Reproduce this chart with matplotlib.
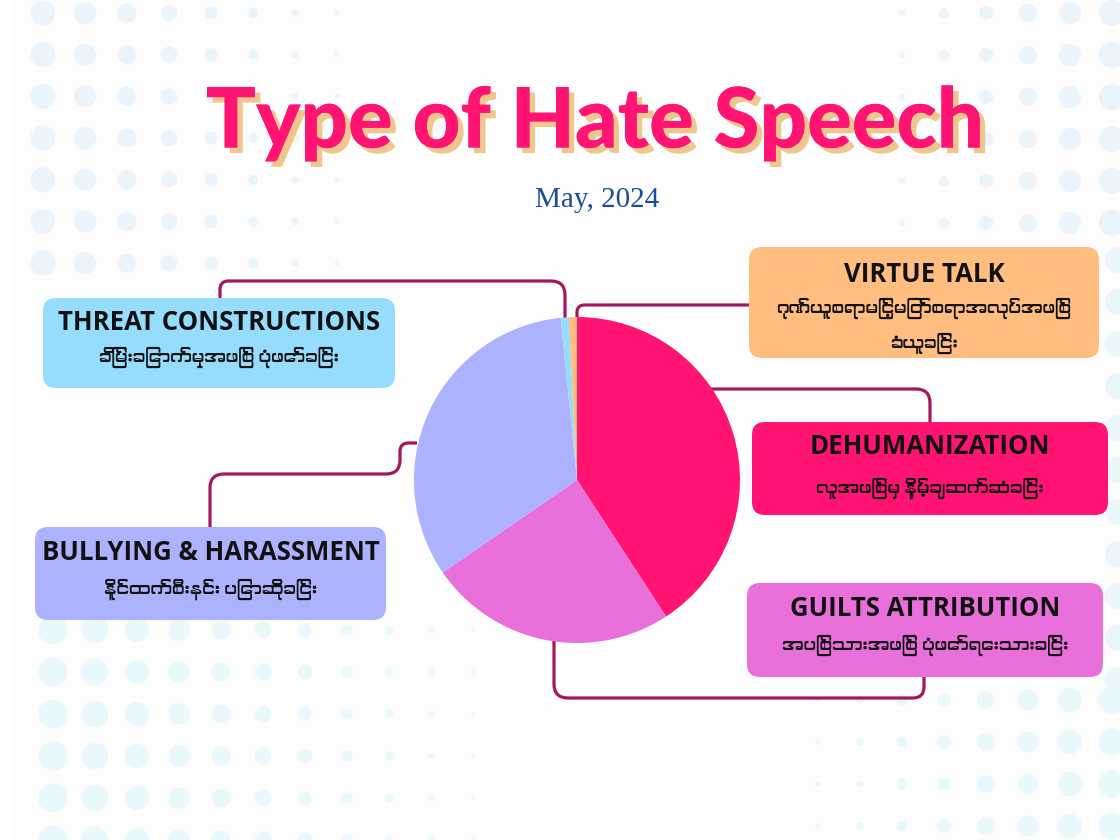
import numpy as np
import matplotlib.pyplot as plt
from matplotlib import font_manager
from matplotlib.ft2font import FT2Font
from matplotlib.patches import FancyBboxPatch, PathPatch, Circle, Rectangle
from matplotlib.path import Path
import matplotlib.patheffects as pe

# ---- data (clockwise from 12 o'clock) ----
categories = ["DEHUMANIZATION", "GUILTS ATTRIBUTION", "BULLYING & HARASSMENT",
              "THREAT CONSTRUCTIONS", "VIRTUE TALK"]
shares = [40.8, 24.6, 33.0, 0.8, 0.8]
subtitles = [
    "လူအဖြစ်မှ နှိမ့်ချဆက်ဆံခြင်း",
    "အပြစ်သားအဖြစ် ပုံဖော်ရေးသားခြင်း",
    "နိုင်ထက်စီးနင်း ပြောဆိုခြင်း",
    "ခြိမ်းခြောက်မှုအဖြစ် ပုံဖော်ခြင်း",
    "ဂုဏ်ယူစရာမြင့်မြတ်စရာအလုပ်အဖြစ်\nခံယူခြင်း",
]
colors = ["#FF1473", "#E970DB", "#ACB2FD", "#96DDFD", "#FFBD80"]
title = "Type of Hate Speech"
period = "May, 2024"

W, H = 1120, 840
LINE = "#A3175C"


def font_with(ch):
    # prefer a face that actually has the glyph (Myanmar block)
    cands = sorted(font_manager.fontManager.ttflist,
                   key=lambda f: ("myanmar" not in f.name.lower() and "padauk" not in f.name.lower()))
    for f in cands:
        try:
            if ord(ch) in FT2Font(f.fname).get_charmap():
                return f.name
        except Exception:
            pass
    return None


mm = font_with("\u1000")
mm_family = ([mm] if mm else []) + ["Noto Sans", "DejaVu Sans"]


def rounded_path(pts, r):
    verts, codes = [pts[0]], [Path.MOVETO]
    for i in range(1, len(pts) - 1):
        p0, p1, p2 = (np.array(p, float) for p in pts[i - 1:i + 2])
        l1, l2 = np.linalg.norm(p1 - p0), np.linalg.norm(p2 - p1)
        rr = min(r, l1 / 2, l2 / 2)
        a = p1 - (p1 - p0) / l1 * rr
        b = p1 + (p2 - p1) / l2 * rr
        verts += [tuple(a), tuple(p1), tuple(b)]
        codes += [Path.LINETO, Path.CURVE3, Path.CURVE3]
    verts.append(pts[-1])
    codes.append(Path.LINETO)
    return Path(verts, codes)


fig = plt.figure(figsize=(11.2, 8.4), dpi=100)
fig.patch.set_facecolor("#FDFDFE")
ax = fig.add_axes([0, 0, 1, 1])
ax.set_xlim(0, W)
ax.set_ylim(H, 0)
ax.set_aspect("equal")
ax.axis("off")

# halftone dots in the corners
def halftone(x0, y0, dx, dy, nx, ny, dmax, color):
    for i in range(nx):
        d = dmax * (1 - i / (nx + 0.5))
        for j in range(ny):
            ax.add_patch(Circle((x0 + dx * i, y0 + dy * j), max(d, 3) / 2,
                                color=color, lw=0, zorder=0))

halftone(43, 13, 42, 41.7, 8, 7, 25, "#EBF4FA")
halftone(53, 630, 42, 42, 11, 6, 29, "#E8F8FB")
halftone(1112, 13, -42, 42, 6, 6, 26, "#EBF4FA")
halftone(1112, 700, -42, 42, 8, 4, 27, "#E8F8FB")
halftone(1118, 260, -42, 42, 1, 11, 26, "#EAF6FA")
ax.add_patch(Rectangle((0, 0), 11, H, color="white", lw=0, zorder=0.5))

# title
ax.text(595, 123, title, ha="center", va="center", fontsize=60,
        fontfamily="Lato", fontweight="black", color="#FF1473",
        path_effects=[pe.withSimplePatchShadow(offset=(4, -4), shadow_rgbFace="#EFC78C", alpha=1),
                      pe.Normal()], zorder=3)
ax.text(597, 200, period, ha="center", va="center", fontsize=21,
        fontfamily="Liberation Serif", color="#1A4D9C", zorder=3)

# boxes: left, top, right, bottom, title y, subtitle y
boxes = [
    (752, 422, 1108, 515, 447, 488),
    (747, 583, 1103, 677, 608, 645),
    (35, 527, 386, 620, 553, 589),
    (43, 298, 395, 388, 323, 357),
    (749, 247, 1099, 358, 274, 326),
]
for (l, t, r, b, ty, sy), name, sub, c in zip(boxes, categories, subtitles, colors):
    ax.add_patch(FancyBboxPatch((l, t), r - l, b - t,
                                boxstyle="round,pad=0,rounding_size=13",
                                fc=c, ec="none", zorder=2))
    cx = (l + r) / 2
    ax.text(cx, ty, name, ha="center", va="center", fontsize=18.5,
            fontfamily="Open Sans", fontweight="bold", color="#111111", zorder=3)
    ax.text(cx, sy, sub, ha="center", va="center", fontsize=12.5,
            family=mm_family, color="#111111", linespacing=1.9, zorder=3)

# connectors from pie to boxes
connectors = [
    [(710, 389), (930, 389), (930, 422)],
    [(554, 630), (554, 698), (924, 698), (924, 676)],
    [(417, 443), (400, 443), (400, 474), (210, 474), (210, 527)],
    [(565, 320), (565, 281), (220, 281), (220, 298)],
    [(577, 320), (577, 305), (750, 305)],
]
for pts in connectors:
    ax.add_patch(PathPatch(rounded_path(pts, 14), fc="none", ec=LINE,
                           lw=2.3, capstyle="butt", zorder=1))

# pie
cx, cy, rad = 577, 480, 163
pax = fig.add_axes([(cx - rad) / W, (H - cy - rad) / H, 2 * rad / W, 2 * rad / H])
pax.pie(shares, colors=colors, startangle=90, counterclock=False,
        wedgeprops=dict(linewidth=0))
pax.set_xlim(-1, 1)
pax.set_ylim(-1, 1)
pax.axis("off")
pax.patch.set_alpha(0)

fig.savefig("out.png", dpi=100, facecolor=fig.get_facecolor())
